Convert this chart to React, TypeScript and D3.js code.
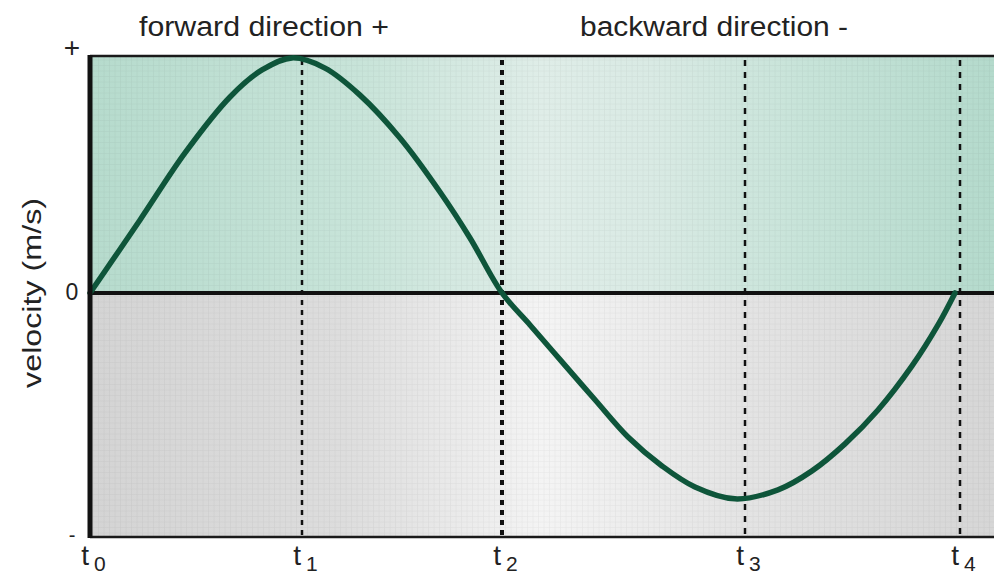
import React from "react";
import * as d3 from "d3";

// tick labels along time axis (name + subscript) and their positions (time units)
const tickBase = ["t", "t", "t", "t", "t"];
const tickSubs = ["0", "1", "2", "3", "4"];
const tickTimes = [0, 1.06, 2.06, 3.275, 4.35];

// velocity curve (normalized velocity)
const curveTimes = [0, 0.25, 0.475, 0.7, 0.86, 1.01, 1.175, 1.35, 1.55, 1.75, 1.9, 2.06, 2.2, 2.36, 2.525, 2.69, 2.86, 3.025, 3.225, 3.44, 3.61, 3.775, 3.94, 4.11, 4.24, 4.325];
const curveVelocity = [0, 0.308, 0.591, 0.827, 0.941, 0.992, 0.949, 0.835, 0.654, 0.426, 0.232, 0, -0.135, -0.291, -0.451, -0.608, -0.73, -0.819, -0.869, -0.831, -0.751, -0.637, -0.494, -0.308, -0.135, 0];

// y-axis labels
const yLabelValues = [1, 0, -1.03];
const yLabelTexts = ["+", "0", "-"];

const titleTexts = ["forward direction +", "backward direction -"];
const titleTimes = [0.87, 3.12];

const W = 994;
const H = 576;

export default function App() {
  const x = d3.scaleLinear().domain([0, 4.52]).range([90, 994]);
  const y = d3.scaleLinear().domain([-1.03, 1]).range([537, 56]);
  const pts = curveTimes.map((t, i) => [t, curveVelocity[i]] as [number, number]);
  const line = d3
    .line<[number, number]>()
    .x((d) => x(d[0]))
    .y((d) => y(d[1]))
    .curve(d3.curveCatmullRom.alpha(0.5));

  const x0 = x(0);
  const xR = W;
  const yTop = y(1);
  const yZero = y(0);
  const yBot = y(-1.03);
  const font = "'Liberation Sans', Arial, Helvetica, sans-serif";

  const dashWidths = [0, 2.5, 4, 2.5, 2.5];
  const dashArrays = ["", "5 5", "5 5", "6 6", "6 6"];
  const yLabelSizes = [28, 23, 20];
  const yLabelOffsets = [1, 7, 5];

  return (
    <svg
      width={W}
      height={H}
      style={{ position: "absolute", left: 0, top: 0, background: "#fff" }}
      fontFamily={font}
    >
      <defs>
        <linearGradient id="gGreen" x1="0" x2="1" y1="0" y2="0">
          <stop offset="0" stopColor="#b6dbcd" />
          <stop offset="0.3" stopColor="#c8e4d9" />
          <stop offset="0.5" stopColor="#dfede8" />
          <stop offset="0.62" stopColor="#d9eae4" />
          <stop offset="0.8" stopColor="#c6e3d8" />
          <stop offset="1" stopColor="#b4dacc" />
        </linearGradient>
        <linearGradient id="gGray" x1="0" x2="1" y1="0" y2="0">
          <stop offset="0" stopColor="#d4d4d4" />
          <stop offset="0.28" stopColor="#dddddd" />
          <stop offset="0.5" stopColor="#f4f4f4" />
          <stop offset="0.72" stopColor="#e4e4e4" />
          <stop offset="1" stopColor="#d6d6d6" />
        </linearGradient>
        <pattern id="grid" width="5.5" height="5.5" patternUnits="userSpaceOnUse">
          <path d="M5.5 0 V5.5 M0 5.5 H5.5" stroke="#000" strokeOpacity="0.06" strokeWidth="1" fill="none" />
        </pattern>
      </defs>

      {/* backgrounds */}
      <rect x={x0} y={yTop} width={xR - x0} height={yZero - yTop} fill="url(#gGreen)" />
      <rect x={x0} y={yZero} width={xR - x0} height={yBot - yZero} fill="url(#gGray)" />
      <rect x={x0} y={yTop} width={xR - x0} height={yBot - yTop} fill="url(#grid)" />

      {/* dashed verticals */}
      {tickTimes.map((t, i) =>
        i === 0 ? null : (
          <line
            key={"v" + i}
            x1={x(t)}
            x2={x(t)}
            y1={yTop + 4}
            y2={yBot}
            stroke="#111"
            strokeWidth={dashWidths[i]}
            strokeDasharray={dashArrays[i]}
          />
        )
      )}

      {/* frame */}
      <line x1={x0} x2={xR} y1={yTop} y2={yTop} stroke="#1a1a1a" strokeWidth={2.5} />
      <line x1={x0} x2={xR} y1={yBot} y2={yBot} stroke="#1a1a1a" strokeWidth={2.5} />
      <line x1={x0} x2={xR} y1={yZero} y2={yZero} stroke="#111" strokeWidth={4} />

      {/* curve */}
      <path d={line(pts) || ""} fill="none" stroke="#0e553a" strokeWidth={5.5} strokeLinecap="round" />

      <line x1={x0} x2={x0} y1={yTop - 1} y2={yBot + 1} stroke="#111" strokeWidth={5} />

      {/* titles */}
      {titleTexts.map((s, i) => (
        <text key={"t" + i} x={x(titleTimes[i])} y={36} textAnchor="middle" fontSize={27} fill="#222"
          textLength={i === 0 ? 250 : 268} lengthAdjust="spacingAndGlyphs">
          {s}
        </text>
      ))}

      {/* y labels */}
      {yLabelValues.map((v, i) => (
        <text key={"y" + i} x={72} y={y(v) + yLabelOffsets[i]} textAnchor="middle"
          fontSize={yLabelSizes[i]} fill="#222">
          {yLabelTexts[i]}
        </text>
      ))}

      {/* axis title */}
      <text transform={`translate(41, ${yZero}) rotate(-90)`} textAnchor="middle" fontSize={25} fill="#222"
        textLength={190} lengthAdjust="spacingAndGlyphs">
        velocity (m/s)
      </text>

      {/* tick labels */}
      {tickTimes.map((t, i) => (
        <g key={"k" + i}>
          <text x={x(t) - 1} y={565} textAnchor="end" fontSize={28} fill="#222">
            {tickBase[i]}
          </text>
          <text x={x(t) + 4} y={571} textAnchor="start" fontSize={21} fill="#222">
            {tickSubs[i]}
          </text>
        </g>
      ))}
    </svg>
  );
}
